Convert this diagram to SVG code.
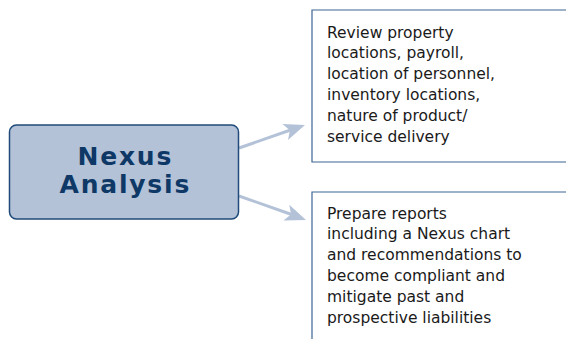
<svg xmlns="http://www.w3.org/2000/svg" width="566" height="339" viewBox="0 0 566 339">
<defs>
<style>
.box{fill:#ffffff;stroke:#3c6494;stroke-width:1.2}
.main{fill:#b4c2d8;stroke:#1f4a7a;stroke-width:1.5}
.title{font-family:"DejaVu Sans",Verdana,sans-serif;font-weight:bold;font-size:25px;letter-spacing:1.8px;fill:#0e3866;text-anchor:middle}
.body{font-family:"DejaVu Sans",Verdana,sans-serif;font-size:15.5px;fill:#1a1a1a}
.conn{stroke:#b4c2d8;stroke-width:3;fill:none}
</style>
<path id="head" d="M0,0 L-21,-8.5 L-16,0 L-21,8.5 Z" fill="#b4c2d8"/>
</defs>
<g id="connectors">
<line class="conn" x1="239" y1="148" x2="292" y2="129.5"/>
<use href="#head" transform="translate(305,125) rotate(-19.3)"/>
<line class="conn" x1="239" y1="196" x2="293" y2="215"/>
<use href="#head" transform="translate(306,220) rotate(20.5)"/>
</g>
<g id="nexus">
<rect class="main" x="9.5" y="125" width="229" height="94" rx="7"/>
<text class="title" x="125.3" y="165">Nexus</text>
<text class="title" x="125.3" y="192.5">Analysis</text>
</g>
<g id="review">
<path class="box" d="M570,10 H312 V162 H570"/>
<text class="body" x="327" y="37.5">Review property</text>
<text class="body" x="327" y="58.3">locations, payroll,</text>
<text class="body" x="327" y="79.1">location of personnel,</text>
<text class="body" x="327" y="99.9">inventory locations,</text>
<text class="body" x="327" y="120.7">nature of product/</text>
<text class="body" x="327" y="141.5">service delivery</text>
</g>
<g id="prepare">
<path class="box" d="M570,192 H312 V342"/>
<text class="body" x="327" y="218.5">Prepare reports</text>
<text class="body" x="327" y="239.3">including a Nexus chart</text>
<text class="body" x="327" y="260.1">and recommendations to</text>
<text class="body" x="327" y="280.9">become compliant and</text>
<text class="body" x="327" y="301.7">mitigate past and</text>
<text class="body" x="327" y="322.5">prospective liabilities</text>
</g>
</svg>
